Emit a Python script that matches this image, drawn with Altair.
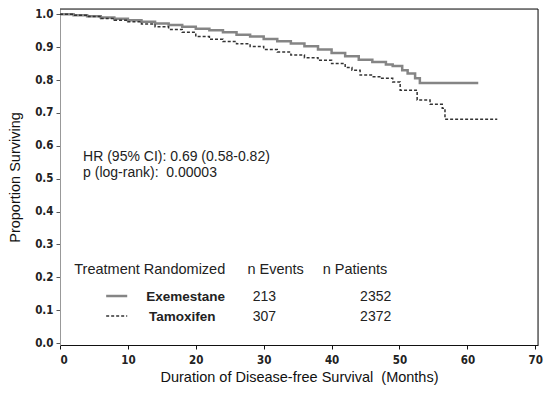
import altair as alt
import pandas as pd

exe_months = [0, 2, 4, 6, 8, 10, 12, 14, 16, 18, 20, 22, 24, 26, 28, 30, 32, 34, 36, 38, 40, 42, 44, 46, 48, 49, 50.4, 51.2, 52.3, 53, 61.6]
exe_surv = [1.0, 0.997, 0.994, 0.99, 0.986, 0.982, 0.977, 0.972, 0.967, 0.962, 0.956, 0.951, 0.945, 0.938, 0.932, 0.925, 0.918, 0.911, 0.903, 0.893, 0.882, 0.872, 0.862, 0.855, 0.847, 0.843, 0.830, 0.82, 0.805, 0.791, 0.791]

tam_months = [0, 2, 4, 6, 8, 10, 12, 14, 16, 18, 20, 22, 24, 26, 28, 30, 32, 34, 36, 38, 40, 42, 43, 44.2, 46, 47.1, 49, 50.1, 52.6, 54.5, 56.3, 56.7, 64.4]
tam_surv = [1.0, 0.997, 0.993, 0.987, 0.982, 0.977, 0.97, 0.962, 0.954, 0.945, 0.932, 0.924, 0.917, 0.91, 0.902, 0.893, 0.885, 0.876, 0.868, 0.86, 0.85, 0.838, 0.83, 0.815, 0.81, 0.805, 0.794, 0.769, 0.739, 0.726, 0.714, 0.681, 0.681]

treatments = ["Exemestane", "Tamoxifen"]
n_events = ["213", "307"]
n_patients = ["2352", "2372"]
hr_text = ["HR (95% CI): 0.69 (0.58-0.82)", "p (log-rank):\u00a0 0.00003"]
legend_headers = ["Treatment Randomized", "n Events", "n Patients"]
y_ticks = [0.0, 0.1, 0.2, 0.3, 0.4, 0.5, 0.6, 0.7, 0.8, 0.9, 1.0]
x_ticks = [0, 10, 20, 30, 40, 50, 60, 70]

W, H = 478, 336
FONT = "Liberation Sans"
TICKFONT = "DejaVu Sans Condensed, Liberation Sans"
XD = [0, 70.4]
YD = [-0.006, 1.016]

xs = alt.Scale(domain=XD, nice=False, zero=False)
ys = alt.Scale(domain=YD, nice=False, zero=False)

x_axis = alt.Axis(values=x_ticks, format="d", grid=False, labelOverlap=False,
                  domainColor="#111", tickColor="#111", tickSize=4,
                  labelPadding=5, titlePadding=5,
                  labelFont=TICKFONT, labelFontWeight="bold", labelFontSize=11.5,
                  labelColor="#222", titleFont=FONT, titleFontSize=14.5,
                  titleFontWeight="normal", titleColor="#111")
y_axis = alt.Axis(values=y_ticks, format=".1f", grid=False, labelOverlap=False,
                  domainColor="#999", tickColor="#555", tickSize=4,
                  labelPadding=3, titlePadding=12,
                  labelFont=TICKFONT, labelFontWeight="bold", labelFontSize=11.5,
                  labelColor="#222", titleFont=FONT, titleFontSize=14.5,
                  titleFontWeight="normal", titleColor="#111")
XT = "Duration of Disease-free Survival\u00a0 (Months)"
YT = "Proportion Surviving"


def X(f="m"):
    return alt.X(f"{f}:Q", scale=xs, title=XT, axis=x_axis)


def Y(f="s"):
    return alt.Y(f"{f}:Q", scale=ys, title=YT, axis=y_axis)


exe = pd.DataFrame({"m": exe_months, "s": exe_surv})
tam = pd.DataFrame({"m": tam_months, "s": tam_surv})

exe_line = alt.Chart(exe).mark_line(interpolate="step-after", color="#858585", strokeWidth=2.5).encode(x=X(), y=Y())
tam_line = alt.Chart(tam).mark_line(interpolate="step-after", color="#333333", strokeWidth=1.5,
                                    strokeDash=[3, 2]).encode(x=X(), y=Y())

frame = pd.DataFrame({"m": [0, XD[1]], "x2": [XD[1], XD[1]], "s": [YD[1], YD[0]], "y2": [YD[1], YD[1]]})
frame_rules = alt.Chart(frame).mark_rule(color="#111", strokeWidth=1).encode(
    x=X(), x2="x2:Q", y=Y(), y2="y2:Q")

ann = pd.DataFrame({"m": [3.4, 3.4], "s": [0.565, 0.518], "t": hr_text})
ann_text = alt.Chart(ann).mark_text(align="left", baseline="middle", font=FONT, fontSize=14,
                                    color="#222").encode(x=X(), y=Y(), text="t:N")

hdr = pd.DataFrame({"m": [2.1, 27.6, 38.7], "s": [0.222, 0.222, 0.222], "t": legend_headers})
hdr_text = alt.Chart(hdr).mark_text(align="left", baseline="middle", font=FONT, fontSize=14.5,
                                    color="#222").encode(x=X(), y=Y(), text="t:N")

rows = pd.DataFrame({"m": [12.7, 13.1], "s": [0.14, 0.079], "t": treatments})
rows_text = alt.Chart(rows).mark_text(align="left", baseline="middle", font=FONT, fontSize=13.5,
                                      fontWeight="bold", color="#222").encode(x=X(), y=Y(), text="t:N")

ev = pd.DataFrame({"m": [30.1, 30.1], "s": [0.14, 0.079], "t": n_events})
ev_text = alt.Chart(ev).mark_text(align="center", baseline="middle", font=FONT, fontSize=14,
                                  color="#222").encode(x=X(), y=Y(), text="t:N")

pt = pd.DataFrame({"m": [44.2, 44.2], "s": [0.14, 0.079], "t": n_patients})
pt_text = alt.Chart(pt).mark_text(align="left", baseline="middle", font=FONT, fontSize=14,
                                  color="#222").encode(x=X(), y=Y(), text="t:N")

leg_solid = alt.Chart(pd.DataFrame({"m": [6.8], "m2": [9.9], "s": [0.143]})).mark_rule(
    color="#858585", strokeWidth=2.5).encode(x=X(), x2="m2:Q", y=Y())
leg_dash = alt.Chart(pd.DataFrame({"m": [6.8], "m2": [9.9], "s": [0.082]})).mark_rule(
    color="#333333", strokeWidth=1.5, strokeDash=[3, 2]).encode(x=X(), x2="m2:Q", y=Y())

chart = alt.layer(exe_line, tam_line, frame_rules, ann_text, hdr_text, rows_text, ev_text, pt_text,
                  leg_solid, leg_dash).properties(
    width=W, height=H,
    autosize=alt.AutoSizeParams(type="none"),
    padding={"left": 52, "top": 1, "right": 9, "bottom": 42},
).configure_view(stroke=None).configure(background="white")

chart.save("out.html", embed_options={"renderer": "svg", "actions": False})
